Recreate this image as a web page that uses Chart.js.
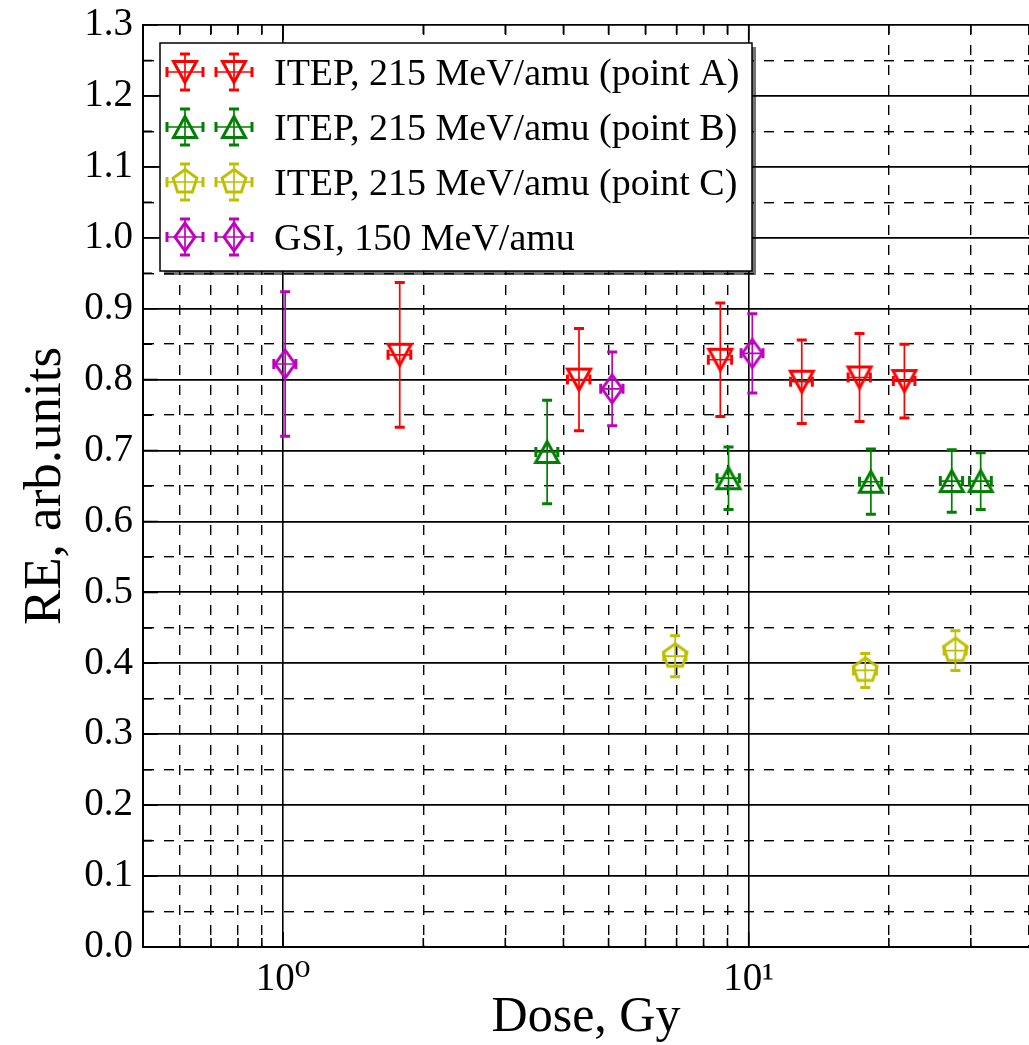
<!DOCTYPE html>
<html><head><meta charset="utf-8">
<script src="https://cdn.jsdelivr.net/npm/chart.js@4.4.0/dist/chart.umd.min.js"></script>
<style>
html,body{margin:0;padding:0;background:#fff;overflow:hidden;}
#wrap{position:relative;width:1029px;height:1045px;overflow:hidden;}
canvas{display:block;}
</style></head><body>
<div id="wrap"><canvas id="c" width="1029" height="1045"></canvas></div>
<script>
// ---------------- data ----------------
const seriesLabels = [
  'ITEP, 215 MeV/amu (point A)',
  'ITEP, 215 MeV/amu (point B)',
  'ITEP, 215 MeV/amu (point C)',
  'GSI, 150 MeV/amu'
];
const seriesColors = ['#ff0000', '#008000', '#bfbf00', '#bf00bf'];
const seriesMarkers = ['triangleDown', 'triangleUp', 'pentagon', 'thinDiamond'];

const doseA    = [1.78, 4.32, 8.69, 13.0, 17.3, 21.6];
const doseErrA = [0.10, 0.24, 0.50, 0.70, 0.95, 1.15];
const reA      = [0.835, 0.800, 0.828, 0.797, 0.803, 0.798];
const reErrA   = [0.102, 0.072, 0.080, 0.059, 0.062, 0.052];

const doseB    = [3.69, 9.05, 18.3, 27.3, 31.5];
const doseErrB = [0.20, 0.50, 1.00, 1.50, 1.70];
const reB      = [0.698, 0.661, 0.656, 0.657, 0.657];
const reErrB   = [0.073, 0.044, 0.046, 0.044, 0.040];

const doseC    = [6.95, 17.8, 27.8];
const doseErrC = [0.38, 1.00, 1.50];
const reC      = [0.410, 0.390, 0.418];
const reErrC   = [0.029, 0.024, 0.028];

const doseG    = [1.01, 5.09, 10.18];
const doseErrG = [0.055, 0.28, 0.55];
const reG      = [0.822, 0.787, 0.837];
const reErrG   = [0.102, 0.052, 0.056];

const xTickValues  = [0.5, 0.6, 0.7, 0.8, 0.9, 1, 2, 3, 4, 5, 6, 7, 8, 9, 10, 20, 30, 40];
const xLabelValues = [1, 10];
const xLabelTexts  = ['10\u2070', '10\u00B9'];

const yLabelValues = [0.0, 0.1, 0.2, 0.3, 0.4, 0.5, 0.6, 0.7, 0.8, 0.9, 1.0, 1.1, 1.2, 1.3];
const yLabelTexts  = ['0.0','0.1','0.2','0.3','0.4','0.5','0.6','0.7','0.8','0.9','1.0','1.1','1.2','1.3'];
const yMinorValues = [0.05, 0.15, 0.25, 0.35, 0.45, 0.55, 0.65, 0.75, 0.85, 0.95, 1.05, 1.15, 1.25];

const xTitle = 'Dose, Gy';
const yTitle = 'RE, arb.units';

// ---------------- helpers ----------------
const FONT = "'Liberation Serif', 'DejaVu Serif', serif";
const near = (a, b) => Math.abs(a - b) < 1e-9;

function makeMarker(shape, color) {
  const c = document.createElement('canvas');
  c.width = 40; c.height = 40;
  const g = c.getContext('2d');
  g.translate(20, 20);
  g.lineWidth = 3;
  g.lineJoin = 'miter';
  g.strokeStyle = color;
  g.beginPath();
  if (shape === 'triangleDown') {
    g.moveTo(0, 10.5); g.lineTo(-11.5, -10.5); g.lineTo(11.5, -10.5);
  } else if (shape === 'triangleUp') {
    g.moveTo(0, -10.5); g.lineTo(-11.5, 10.5); g.lineTo(11.5, 10.5);
  } else if (shape === 'pentagon') {
    const r = 12.5;
    for (let k = 0; k < 5; k++) {
      const a = -Math.PI / 2 + k * 2 * Math.PI / 5;
      const px = r * Math.cos(a), py = r * Math.sin(a);
      if (k === 0) g.moveTo(px, py); else g.lineTo(px, py);
    }
  } else if (shape === 'thinDiamond') {
    g.moveTo(0, -14); g.lineTo(10, 0); g.lineTo(0, 14); g.lineTo(-10, 0);
  }
  g.closePath();
  g.stroke();
  return c;
}

const markerImgs = seriesMarkers.map((m, i) => makeMarker(m, seriesColors[i]));

function pts(xs, xe, ys, ye) {
  return xs.map((x, i) => ({ x: x, y: ys[i], xerr: xe[i], yerr: ye[i] }));
}
const seriesData = [
  pts(doseA, doseErrA, reA, reErrA),
  pts(doseB, doseErrB, reB, reErrB),
  pts(doseC, doseErrC, reC, reErrC),
  pts(doseG, doseErrG, reG, reErrG)
];

function drawErrCross(ctx, cx, cy, xl, xr, yt, yb, color) {
  const cap = 5;
  ctx.strokeStyle = color;
  ctx.lineCap = 'butt';
  ctx.lineWidth = 1.7;
  ctx.beginPath();
  ctx.moveTo(cx, yt); ctx.lineTo(cx, yb);
  ctx.moveTo(xl, cy); ctx.lineTo(xr, cy);
  ctx.stroke();
  ctx.lineWidth = 3;
  ctx.beginPath();
  ctx.moveTo(cx - cap, yt); ctx.lineTo(cx + cap, yt);
  ctx.moveTo(cx - cap, yb); ctx.lineTo(cx + cap, yb);
  ctx.moveTo(xl, cy - cap); ctx.lineTo(xl, cy + cap);
  ctx.moveTo(xr, cy - cap); ctx.lineTo(xr, cy + cap);
  ctx.stroke();
}

const errorBarPlugin = {
  id: 'errorBars',
  beforeDatasetsDraw(chart) {
    const { ctx, chartArea } = chart;
    const xs = chart.scales.x, ys = chart.scales.y;
    ctx.save();
    ctx.beginPath();
    ctx.rect(chartArea.left, chartArea.top, chartArea.right - chartArea.left, chartArea.bottom - chartArea.top);
    ctx.clip();
    chart.data.datasets.forEach((ds, di) => {
      ds.data.forEach(p => {
        const cx = xs.getPixelForValue(p.x), cy = ys.getPixelForValue(p.y);
        const xl = xs.getPixelForValue(p.x - p.xerr), xr = xs.getPixelForValue(p.x + p.xerr);
        const yt = ys.getPixelForValue(p.y + p.yerr), yb = ys.getPixelForValue(p.y - p.yerr);
        drawErrCross(ctx, cx, cy, xl, xr, yt, yb, seriesColors[di]);
      });
    });
    ctx.restore();
  }
};

// inward matplotlib-style tick marks on the axes
const tickMarkPlugin = {
  id: 'inTicks',
  afterDatasetsDraw(chart) {
    const { ctx, chartArea } = chart;
    const xs = chart.scales.x, ys = chart.scales.y;
    ctx.save();
    ctx.strokeStyle = '#000';
    ctx.lineWidth = 1.6;
    ctx.beginPath();
    xs.ticks.forEach(t => {
      const px = xs.getPixelForValue(t.value);
      if (px <= chartArea.left + 1 || px >= chartArea.right) return;
      const len = xLabelValues.some(lv => near(lv, t.value)) ? 15 : 9;
      ctx.moveTo(px, chartArea.bottom); ctx.lineTo(px, chartArea.bottom - len);
      ctx.moveTo(px, chartArea.top); ctx.lineTo(px, chartArea.top + len);
    });
    ys.ticks.forEach(t => {
      const py = ys.getPixelForValue(t.value);
      const len = yLabelValues.some(lv => near(lv, t.value)) ? 15 : 9;
      ctx.moveTo(chartArea.left, py); ctx.lineTo(chartArea.left + len, py);
    });
    ctx.stroke();
    ctx.restore();
  }
};

const legendPlugin = {
  id: 'boxLegend',
  afterDraw(chart) {
    const ctx = chart.ctx;
    const L = 160, T = 43, W = 592, H = 228;
    ctx.save();
    ctx.fillStyle = 'rgba(0,0,0,0.55)';
    ctx.fillRect(L + 4, T + 4, W, H);
    ctx.fillStyle = '#ffffff';
    ctx.fillRect(L, T, W, H);
    ctx.lineWidth = 1.5;
    ctx.strokeStyle = '#000000';
    ctx.strokeRect(L, T, W, H);
    const rowY0 = 72, rowStep = 55;
    const mx = [185, 234];
    chart.data.datasets.forEach((ds, i) => {
      const cy = rowY0 + i * rowStep;
      mx.forEach(cx => {
        drawErrCross(ctx, cx, cy, cx - 18, cx + 18, cy - 18, cy + 18, seriesColors[i]);
        const img = markerImgs[i];
        ctx.drawImage(img, cx - img.width / 2, cy - img.height / 2);
      });
      ctx.fillStyle = '#000000';
      ctx.font = '38px ' + FONT;
      ctx.textAlign = 'left';
      ctx.textBaseline = 'alphabetic';
      ctx.fillText(ds.label, 274, cy + 12.8);
    });
    ctx.restore();
  }
};

// ---------------- chart ----------------
new Chart(document.getElementById('c'), {
  type: 'scatter',
  data: {
    datasets: seriesData.map((d, i) => ({
      label: seriesLabels[i],
      data: d,
      borderColor: seriesColors[i],
      backgroundColor: 'rgba(0,0,0,0)',
      pointStyle: markerImgs[i],
      pointRadius: 14,
      pointHoverRadius: 14,
      showLine: false
    }))
  },
  options: {
    responsive: false,
    animation: false,
    devicePixelRatio: 1,
    layout: { autoPadding: false, padding: { top: 25, right: -6, left: 0, bottom: 0 } },
    plugins: { legend: { display: false }, tooltip: { enabled: false } },
    scales: {
      x: {
        type: 'logarithmic',
        position: 'bottom',
        min: 0.5,
        max: 40,
        afterBuildTicks: s => { s.ticks = xTickValues.map(v => ({ value: v })); },
        afterFit: s => { s.height = 98; s.paddingLeft = 0; s.paddingRight = 0; },
        ticks: {
          autoSkip: false,
          maxRotation: 0,
          minRotation: 0,
          padding: 9,
          color: '#000',
          font: { family: FONT, size: 39 },
          callback: (v) => {
            const k = xLabelValues.findIndex(lv => near(lv, v));
            return k >= 0 ? xLabelTexts[k] : '';
          }
        },
        grid: {
          drawTicks: false,
          color: '#000',
          lineWidth: c => (c.tick && xLabelValues.some(lv => near(lv, c.tick.value))) ? 1.6 : 1.4
        },
        border: {
          display: true, color: '#000', width: 2,
          dash: c => (c.tick && !xLabelValues.some(lv => near(lv, c.tick.value))) ? [10, 10] : []
        },
        title: {
          display: true, text: xTitle, color: '#000',
          font: { family: FONT, size: 50, lineHeight: 1.0 },
          padding: { top: 0, bottom: 2 }
        }
      },
      y: {
        type: 'linear',
        position: 'left',
        min: 0,
        max: 1.3,
        afterBuildTicks: s => {
          s.ticks = yLabelValues.concat(yMinorValues).sort((a, b) => a - b).map(v => ({ value: v }));
        },
        afterFit: s => { s.width = 143; s.paddingTop = 0; s.paddingBottom = 0; },
        ticks: {
          autoSkip: false,
          padding: 10,
          color: '#000',
          font: { family: FONT, size: 39 },
          callback: (v) => {
            const k = yLabelValues.findIndex(lv => near(lv, v));
            return k >= 0 ? yLabelTexts[k] : '';
          }
        },
        grid: {
          drawTicks: false,
          color: '#000',
          lineWidth: c => (c.tick && yLabelValues.some(lv => near(lv, c.tick.value))) ? 1.8 : 1.4
        },
        border: {
          display: true, color: '#000', width: 2,
          dash: c => (c.tick && !yLabelValues.some(lv => near(lv, c.tick.value))) ? [10, 10] : []
        },
        title: {
          display: true, text: yTitle, color: '#000',
          font: { family: FONT, size: 53, lineHeight: 1.2 },
          padding: { top: 14, bottom: 0 }
        }
      }
    }
  },
  plugins: [errorBarPlugin, tickMarkPlugin, legendPlugin]
});
</script>
</body></html>
